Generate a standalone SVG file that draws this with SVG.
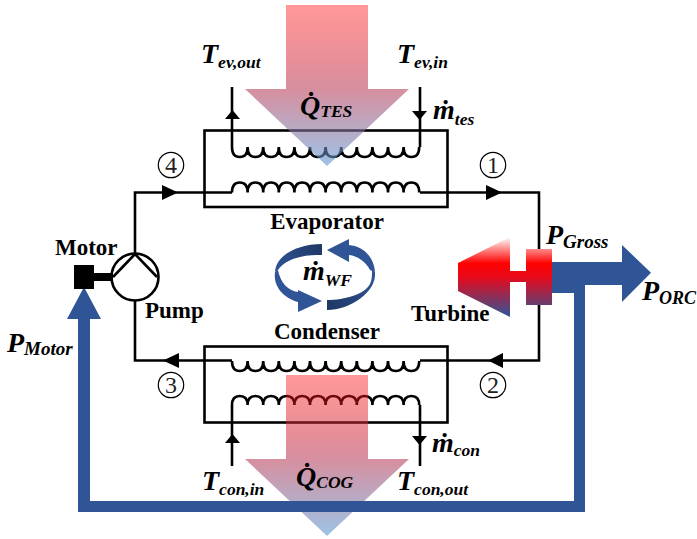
<svg xmlns="http://www.w3.org/2000/svg" width="697" height="539" viewBox="0 0 697 539">
<style>
.ln{fill:none;stroke:#000;stroke-width:2.6}
.thin{fill:none;stroke:#000;stroke-width:1.2}
.ah{fill:#000}
text{font-family:"Liberation Serif","Times New Roman",serif;font-weight:bold;fill:#000}
.lb{font-size:23px}
.v{font-style:italic;font-size:28px}
.s{font-style:italic;font-size:17.500px}
.sp{font-style:italic;font-size:19px}
.so{font-style:italic;font-size:18px}
.n{font-weight:normal;font-size:24px;fill:#222}
</style>
<defs>
<linearGradient id="heatT" gradientUnits="userSpaceOnUse" x1="0" y1="5" x2="0" y2="166"><stop offset="0" stop-color="#ff0000" stop-opacity="0.4"/><stop offset="0.52" stop-color="#bc445f" stop-opacity="0.6"/><stop offset="1" stop-color="#5b9bd5" stop-opacity="0.6"/></linearGradient>
<linearGradient id="heatB" gradientUnits="userSpaceOnUse" x1="0" y1="375" x2="0" y2="536"><stop offset="0" stop-color="#ff0000" stop-opacity="0.4"/><stop offset="0.52" stop-color="#bc445f" stop-opacity="0.6"/><stop offset="1" stop-color="#5b9bd5" stop-opacity="0.6"/></linearGradient>
<linearGradient id="turb" gradientUnits="userSpaceOnUse" x1="0" y1="237" x2="0" y2="317"><stop offset="0" stop-color="#fff"/><stop offset="0.33" stop-color="#ff0000"/><stop offset="0.5" stop-color="#e8091a"/><stop offset="1" stop-color="#2f5597"/></linearGradient>
<linearGradient id="swirlA" gradientUnits="userSpaceOnUse" x1="276" y1="272" x2="322" y2="244"><stop offset="0" stop-color="#2f5597"/><stop offset="1" stop-color="#1f3864"/></linearGradient>
<linearGradient id="swirlB" gradientUnits="userSpaceOnUse" x1="374" y1="272" x2="327" y2="305"><stop offset="0" stop-color="#2f5597"/><stop offset="1" stop-color="#1f3864"/></linearGradient>
</defs>
<g id="connectors">
<path class="ln" d="M135 253V192.500H232"/>
<path class="ln" d="M420 192.500H539V360.500H420"/>
<path class="ln" d="M232 360.500H135V300"/>
<path class="ln" d="M232 87V147"/>
<path class="ln" d="M420 87V147"/>
<path class="ln" d="M232 466V405"/>
<path class="ln" d="M420 466V405"/>
<path class="ah" d="M162 185V200L178 192.500Z"/>
<path class="ah" d="M486 185V200L502 192.500Z"/>
<path class="ah" d="M179 353V368L163 360.500Z"/>
<path class="ah" d="M503 353V368L488 360.500Z"/>
<path class="ah" d="M225 119H240L232.500 110Z"/>
<path class="ah" d="M412 111H427L419.500 120Z"/>
<path class="ah" d="M225 443H240L232.500 434Z"/>
<path class="ah" d="M412 436H427L419.500 445Z"/>
</g>
<g id="evaporator">
<rect class="ln" x="204.500" y="130.500" width="243" height="76.500"/>
<path class="ln" d="M232 147q0 10 7.800 10t7.800-10q0 10 7.800 10t7.800-10q0 10 7.800 10t7.800-10q0 10 7.800 10t7.800-10q0 10 7.800 10t7.800-10q0 10 7.800 10t7.800-10q0 10 7.800 10t7.800-10q0 10 7.800 10t7.800-10q0 10 7.800 10t7.800-10q0 10 7.800 10t7.800-10q0 10 7.800 10t7.800-10q0 10 7.800 10t7.800-10"/>
<path class="ln" d="M232 192.500q0-10 7.800-10t7.800 10q0-10 7.800-10t7.800 10q0-10 7.800-10t7.800 10q0-10 7.800-10t7.800 10q0-10 7.800-10t7.800 10q0-10 7.800-10t7.800 10q0-10 7.800-10t7.800 10q0-10 7.800-10t7.800 10q0-10 7.800-10t7.800 10q0-10 7.800-10t7.800 10q0-10 7.800-10t7.800 10q0-10 7.800-10t7.800 10"/>
<text class="lb" x="327" y="229" text-anchor="middle">Evaporator</text>
</g>
<g id="condenser">
<rect class="ln" x="204.500" y="346.500" width="243" height="76"/>
<path class="ln" d="M232 361q0 10 7.800 10t7.800-10q0 10 7.800 10t7.800-10q0 10 7.800 10t7.800-10q0 10 7.800 10t7.800-10q0 10 7.800 10t7.800-10q0 10 7.800 10t7.800-10q0 10 7.800 10t7.800-10q0 10 7.800 10t7.800-10q0 10 7.800 10t7.800-10q0 10 7.800 10t7.800-10q0 10 7.800 10t7.800-10q0 10 7.800 10t7.800-10"/>
<path class="ln" d="M232 405q0-9 7.800-9t7.800 9q0-9 7.800-9t7.800 9q0-9 7.800-9t7.800 9q0-9 7.800-9t7.800 9q0-9 7.800-9t7.800 9q0-9 7.800-9t7.800 9q0-9 7.800-9t7.800 9q0-9 7.800-9t7.800 9q0-9 7.800-9t7.800 9q0-9 7.800-9t7.800 9q0-9 7.800-9t7.800 9q0-9 7.800-9t7.800 9"/>
<text class="lb" x="327" y="339" text-anchor="middle">Condenser</text>
</g>
<g id="heat-tes"><path d="M286 5H368V89H409L327 166L245 89H286Z" fill="url(#heatT)"/></g>
<g id="heat-cog"><path d="M286 375H368V459H409L327 536L245 459H286Z" fill="url(#heatB)"/></g>
<g id="power-flow">
<path d="M90 319V501H574V293H552V262H622V245L651 272.700L622 302V285H585V512H78V319H67L84 287L101 319Z" fill="#2f5597"/>
</g>
<g id="pump">
<rect x="74" y="265" width="20" height="24" fill="#000"/>
<rect x="94" y="273" width="19" height="8" fill="#000"/>
<circle class="ln" cx="135" cy="277" r="23.500"/>
<path class="ln" d="M113 277L135 254L157 277"/>
<text class="lb" x="55" y="255">Motor</text>
<text class="lb" x="145" y="318">Pump</text>
</g>
<g id="turbine">
<path d="M458 263L510 237V317L458 291Z" fill="url(#turb)"/>
<rect x="510" y="271" width="16" height="11" fill="url(#turb)"/>
<rect x="526" y="249" width="26" height="56" fill="url(#turb)"/>
<text class="lb" x="411" y="321">Turbine</text>
</g>
<g id="swirl">
<path d="M327 250L349 239V245C362 246 374 256 375 272L370 270C366 262 358 256 349 255V262Z" fill="#2f5597"/>
<path d="M327 300C345 300 365 294 370 284C372 280 372 275 372 270L375 272C377 292 350 310 327 310Z" fill="url(#swirlB)"/>
<path d="M322 244C298 244 276 255 275 272L278 270C282 264 290 259 300 257C308 255 315 255 322 255Z" fill="url(#swirlA)"/>
<path d="M322 301L298 290V292C288 291 280 282 278 270L275 272C273 287 284 298 298 302V312Z" fill="#2f5597"/>
</g>
<g id="state-points">
<circle class="thin" cx="171" cy="165" r="12.700"/><text class="n" x="171" y="173" text-anchor="middle">4</text>
<circle class="thin" cx="493" cy="165" r="12.700"/><text class="n" x="493" y="173" text-anchor="middle">1</text>
<circle class="thin" cx="171" cy="385" r="12.700"/><text class="n" x="171" y="393" text-anchor="middle">3</text>
<circle class="thin" cx="493" cy="385" r="12.700"/><text class="n" x="493" y="393" text-anchor="middle">2</text>
</g>
<g id="labels">
<text x="201" y="63"><tspan class="v">T</tspan><tspan class="s" dy="5">ev,out</tspan></text>
<text x="397" y="63"><tspan class="v">T</tspan><tspan class="s" dy="5">ev,in</tspan></text>
<text x="300" y="115"><tspan class="v">Q̇</tspan><tspan class="s" dy="2">TES</tspan></text>
<text x="433" y="119"><tspan class="v">ṁ</tspan><tspan class="s" dy="6">tes</tspan></text>
<text x="202" y="490"><tspan class="v">T</tspan><tspan class="s" dy="5">con,in</tspan></text>
<text x="397" y="490"><tspan class="v">T</tspan><tspan class="s" dy="5">con,out</tspan></text>
<text x="296" y="486"><tspan class="v">Q̇</tspan><tspan class="s" dy="2">COG</tspan></text>
<text x="432" y="452"><tspan class="v">ṁ</tspan><tspan class="s" dy="4">con</tspan></text>
<text x="303" y="280"><tspan class="v">ṁ</tspan><tspan class="s" dy="6">WF</tspan></text>
<text x="7" y="352"><tspan class="v">P</tspan><tspan class="sp" dy="3">Motor</tspan></text>
<text x="546" y="244"><tspan class="v">P</tspan><tspan class="sp" dy="4">Gross</tspan></text>
<text x="642" y="300"><tspan class="v">P</tspan><tspan class="so" dy="4">ORC</tspan></text>
</g>
</svg>
